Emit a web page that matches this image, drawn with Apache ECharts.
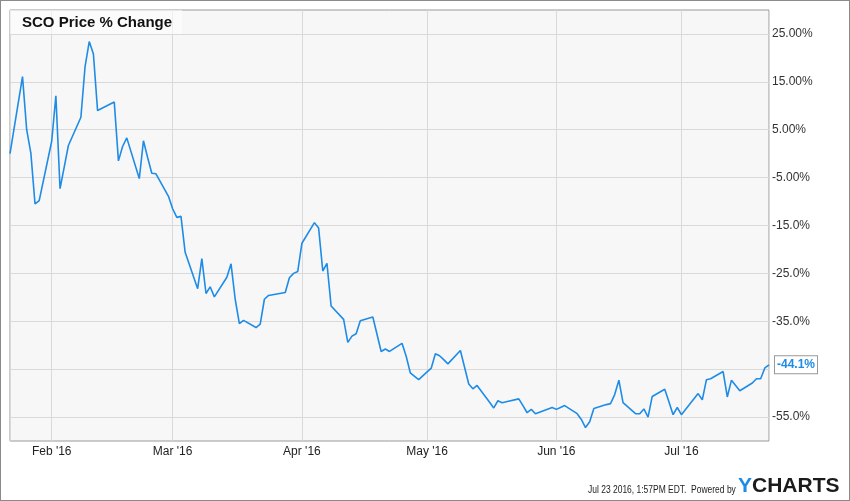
<!DOCTYPE html>
<html>
<head>
<meta charset="utf-8">
<script src="https://cdn.jsdelivr.net/npm/echarts@6/dist/echarts.min.js"></script>
<style>
html,body{margin:0;padding:0;background:#fff;overflow:hidden;}
#wrap{position:relative;width:850px;height:501px;}
#chart{position:absolute;left:0;top:0;width:850px;height:501px;}
#frame{position:absolute;left:0;top:0;width:850px;height:501px;box-sizing:border-box;border:1px solid #8a8a8a;pointer-events:none;}
</style>
</head>
<body>
<div id="wrap"><div id="chart"></div><div id="frame"></div></div>
<script>
// ---- data ----
var dates = [
'2016-01-22','2016-01-25','2016-01-26','2016-01-27','2016-01-28','2016-01-29',
'2016-02-01','2016-02-02','2016-02-03','2016-02-04','2016-02-05',
'2016-02-08','2016-02-09','2016-02-10','2016-02-11','2016-02-12',
'2016-02-16','2016-02-17','2016-02-18','2016-02-19',
'2016-02-22','2016-02-23','2016-02-24','2016-02-25','2016-02-26',
'2016-02-29','2016-03-01','2016-03-02','2016-03-03','2016-03-04',
'2016-03-07','2016-03-08','2016-03-09','2016-03-10','2016-03-11',
'2016-03-14','2016-03-15','2016-03-16','2016-03-17','2016-03-18',
'2016-03-21','2016-03-22','2016-03-23','2016-03-24',
'2016-03-28','2016-03-29','2016-03-30','2016-03-31','2016-04-01',
'2016-04-04','2016-04-05','2016-04-06','2016-04-07','2016-04-08',
'2016-04-11','2016-04-12','2016-04-13','2016-04-14','2016-04-15',
'2016-04-18','2016-04-19','2016-04-20','2016-04-21','2016-04-22',
'2016-04-25','2016-04-26','2016-04-27','2016-04-28','2016-04-29',
'2016-05-02','2016-05-03','2016-05-04','2016-05-05','2016-05-06',
'2016-05-09','2016-05-10','2016-05-11','2016-05-12','2016-05-13',
'2016-05-16','2016-05-17','2016-05-18','2016-05-19','2016-05-20',
'2016-05-23','2016-05-24','2016-05-25','2016-05-26','2016-05-27',
'2016-05-31','2016-06-01','2016-06-02','2016-06-03',
'2016-06-06','2016-06-07','2016-06-08','2016-06-09','2016-06-10',
'2016-06-13','2016-06-14','2016-06-15','2016-06-16','2016-06-17',
'2016-06-20','2016-06-21','2016-06-22','2016-06-23','2016-06-24',
'2016-06-27','2016-06-28','2016-06-29','2016-06-30','2016-07-01',
'2016-07-05','2016-07-06','2016-07-07','2016-07-08',
'2016-07-11','2016-07-12','2016-07-13','2016-07-14','2016-07-15',
'2016-07-18','2016-07-19','2016-07-20','2016-07-21','2016-07-22'
];
var pctChange = [
0, 16.1, 5.0, 0.1, -10.5, -9.8,
2.6, 12.1, -7.3, -2.8, 1.7,
7.6, 18.2, 23.4, 20.8, 9.0,
10.8, -1.5, 1.5, 3.3,
-5.2, 2.7, -0.8, -4.1, -4.2,
-8.9, -11.5, -13.3, -13.1, -20.6,
-28.2, -21.9, -29.2, -27.8, -29.9,
-25.8, -23.0, -30.4, -35.5, -34.8,
-36.3, -35.6, -30.4, -29.6,
-29.0, -25.9, -25.0, -24.6, -18.7,
-14.4, -15.5, -24.5, -22.9, -31.8,
-34.6, -39.4, -38.1, -37.6, -34.9,
-34.1, -37.7, -41.3, -40.8, -41.3,
-39.6, -42.3, -45.8, -46.5, -47.2,
-44.8, -41.8, -42.2, -43.0, -43.9,
-41.1, -44.6, -48.1, -49.1, -48.4,
-51.9, -53.1, -51.6, -52.0, -51.8,
-51.2, -52.6, -54.1, -53.4, -54.3,
-53.0, -53.4, -53.0, -52.6,
-54.3, -55.5, -57.2, -56.0, -53.2,
-52.4, -52.2, -50.3, -47.3, -52.0,
-54.3, -54.3, -53.3, -55.0, -50.7,
-49.2, -51.8, -54.5, -53.0, -54.5,
-50.1, -51.4, -47.2, -47.0,
-45.5, -50.8, -47.3, -48.4, -49.5,
-47.9, -47.0, -47.0, -44.75, -44.1
];
var monthNames = ['Jan','Feb','Mar','Apr','May','Jun','Jul','Aug','Sep','Oct','Nov','Dec'];
var yTickValues = [25, 15, 5, -5, -15, -25, -35, -55];
var yTickTexts = ['25.00%','15.00%','5.00%','-5.00%','-15.0%','-25.0%','-35.0%','-55.0%'];
var lastLabel = '-44.1%';
var titleText = 'SCO Price % Change';
var footerText = 'Jul 23 2016, 1:57PM EDT.  Powered by';

var seriesData = dates.map(function (d, i) { return [d, pctChange[i]]; });

var chart = echarts.init(document.getElementById('chart'), null, {renderer: 'canvas'});
var FONT = '"Liberation Sans", Arial, sans-serif';
var option = {
  animation: false,
  backgroundColor: '#ffffff',
  title: {
    text: titleText,
    left: 10, top: 10,
    padding: [5, 10, 4, 12],
    backgroundColor: 'rgba(255,255,255,0.55)',
    textStyle: {fontFamily: FONT, fontSize: 15, fontWeight: 'bold', color: '#111'}
  },
  grid: {
    left: 10, top: 10, right: 81, bottom: 60,
    show: true, backgroundColor: '#f7f7f7', borderColor: '#999', borderWidth: 1,
    containLabel: false
  },
  xAxis: {
    type: 'time',
    min: '2016-01-22',
    max: '2016-07-22',
    minInterval: 31 * 86400000,
    maxInterval: 31 * 86400000,
    axisLine: {show: false},
    axisTick: {show: false},
    splitLine: {show: true, lineStyle: {color: '#d9d9d9', width: 1}},
    axisLabel: {
      fontFamily: FONT, fontSize: 12, color: '#222', margin: 5,
      showMinLabel: false, showMaxLabel: false,
      formatter: function (val) {
        var d = new Date(val);
        if (d.getDate() !== 1) return '';
        return monthNames[d.getMonth()] + " '" + String(d.getFullYear()).slice(2);
      }
    }
  },
  yAxis: {
    type: 'value',
    position: 'right',
    min: -60, max: 30, interval: 5,
    axisLine: {show: false},
    axisTick: {show: false},
    splitLine: {show: true, lineStyle: {color: ['rgba(0,0,0,0)', '#d9d9d9'], width: 1}},
    axisLabel: {
      fontFamily: FONT, fontSize: 12, color: '#333', margin: 3,
      formatter: function (v) {
        var i = yTickValues.indexOf(Math.round(v));
        return i >= 0 ? yTickTexts[i] : '';
      }
    }
  },
  series: [{
    type: 'line',
    data: seriesData,
    showSymbol: false,
    symbol: 'none',
    lineStyle: {color: '#1e8ce6', width: 1.6},
    itemStyle: {color: '#1e8ce6'},
    endLabel: {
      show: true,
      formatter: lastLabel,
      distance: 6,
      fontFamily: FONT, fontSize: 12, fontWeight: 'bold', color: '#1e8ce6',
      backgroundColor: '#ffffff', borderColor: '#999', borderWidth: 1,
      padding: [3, 2, 2, 2]
    }
  }],
  graphic: [
    {type: 'text', x: 588, y: 484, scaleX: 0.77,
     style: {text: footerText, font: '11px ' + FONT, fill: '#222', textVerticalAlign: 'top'}},
    {type: 'text', left: 738, top: 476,
     style: {text: 'Y', font: 'bold 21px ' + FONT, fill: '#1e8ce6'}},
    {type: 'text', left: 752, top: 476,
     style: {text: 'CHARTS', font: 'bold 21px ' + FONT, fill: '#1b1b1b'}}
  ]
};
chart.setOption(option);
</script>
</body>
</html>
